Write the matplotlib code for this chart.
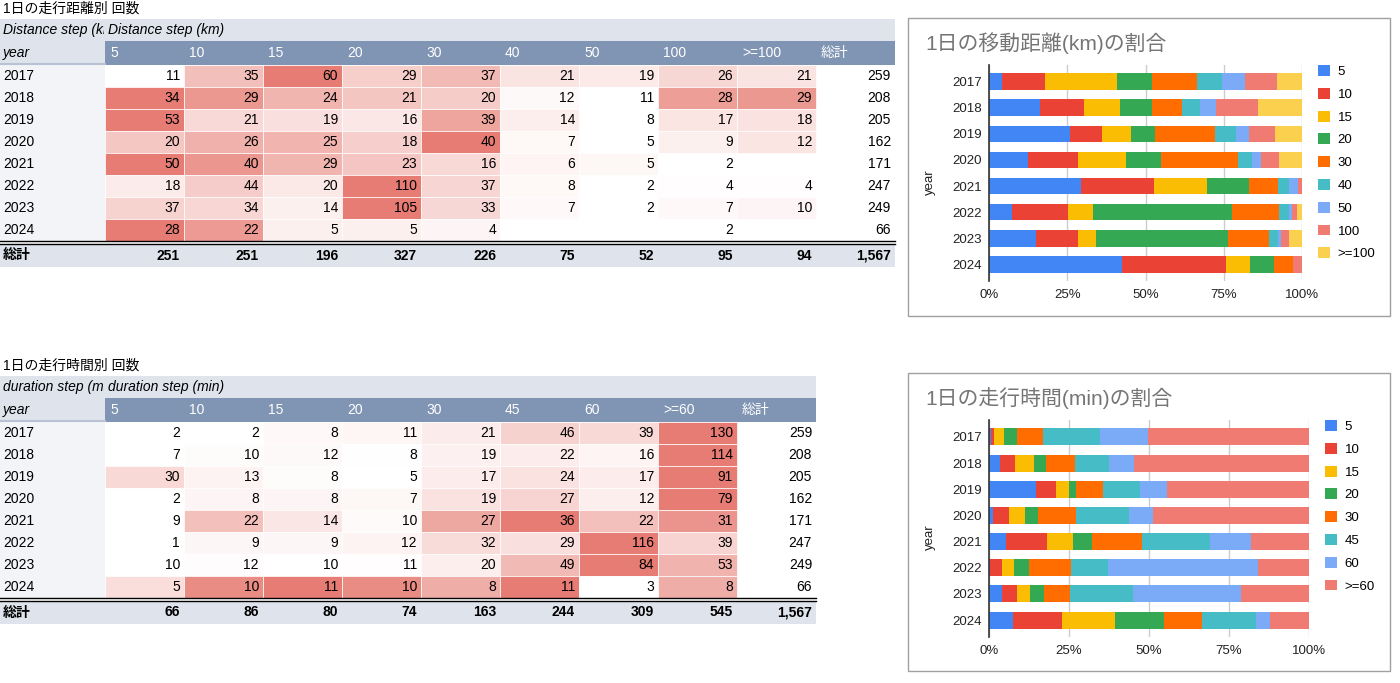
import numpy as np
import matplotlib
matplotlib.use('Agg')
import matplotlib.pyplot as plt
from matplotlib.patches import Rectangle
from matplotlib.colors import LinearSegmentedColormap
from matplotlib.transforms import Bbox, TransformedBbox

plt.rcParams['font.family'] = ['Liberation Sans', 'Noto Sans CJK JP', 'DejaVu Sans']

# データ
years = [2017, 2018, 2019, 2020, 2021, 2022, 2023, 2024]

dist_bins = ['5', '10', '15', '20', '30', '40', '50', '100', '>=100']
dist_counts = np.array([
    [11, 35, 60, 29, 37, 21, 19, 26, 21],
    [34, 29, 24, 21, 20, 12, 11, 28, 29],
    [53, 21, 19, 16, 39, 14, 8, 17, 18],
    [20, 26, 25, 18, 40, 7, 5, 9, 12],
    [50, 40, 29, 23, 16, 6, 5, 2, np.nan],
    [18, 44, 20, 110, 37, 8, 2, 4, 4],
    [37, 34, 14, 105, 33, 7, 2, 7, 10],
    [28, 22, 5, 5, 4, np.nan, np.nan, 2, np.nan],
])

dur_bins = ['5', '10', '15', '20', '30', '45', '60', '>=60']
dur_counts = np.array([
    [2, 2, 8, 11, 21, 46, 39, 130],
    [7, 10, 12, 8, 19, 22, 16, 114],
    [30, 13, 8, 5, 17, 24, 17, 91],
    [2, 8, 8, 7, 19, 27, 12, 79],
    [9, 22, 14, 10, 27, 36, 22, 31],
    [1, 9, 9, 12, 32, 29, 116, 39],
    [10, 12, 10, 11, 20, 49, 84, 53],
    [5, 10, 11, 10, 8, 11, 3, 8],
], dtype=float)

bar_colors = ['#4285F4', '#EA4335', '#FBBC04', '#34A853', '#FF6D01',
              '#46BDC6', '#7BAAF7', '#F07B72', '#FCD04F']

LIGHT = '#DFE3EC'
DARK = '#8094B3'
YEARBG = '#F3F4F7'
FS = 10      # 表の文字
CFS = 9.5    # グラフの文字

W, H = 1400, 683
fig = plt.figure(figsize=(14, 6.83), dpi=100)
canvas = fig.add_axes([0, 0, 1, 1])
canvas.set_xlim(0, W)
canvas.set_ylim(H, 0)
canvas.axis('off')

heat = LinearSegmentedColormap.from_list('heat', ['#FFFFFF', '#E67C73'])


# 表（ヒートマップ付き）
def draw_table(top, title, step_label, bins, counts):
    x0, cw, rh = 105, 79, 22
    ncol = len(bins) + 1
    right = x0 + cw * ncol
    canvas.text(3, top - 10, title, fontsize=FS, va='center')

    canvas.add_patch(Rectangle((0, top), right, 22, color=LIGHT, lw=0))
    t = canvas.text(3, top + 11, step_label, style='italic', fontsize=FS, va='center')
    t.set_clip_box(TransformedBbox(Bbox([[0, top], [x0 - 1, top + 22]]), canvas.transData))
    t.set_clip_on(True)
    canvas.text(x0 + 3, top + 11, step_label, style='italic', fontsize=FS, va='center')

    head = top + 22
    canvas.add_patch(Rectangle((0, head), x0, 24, color=LIGHT, lw=0))
    canvas.plot([0, x0], [head + 23, head + 23], color='#B8C2D4', lw=1.5)
    canvas.add_patch(Rectangle((x0, head), right - x0, 24, color=DARK, lw=0))
    canvas.text(3, head + 12, 'year', style='italic', fontsize=FS, va='center')
    for j, lab in enumerate(bins + ['総計']):
        canvas.text(x0 + cw * j + 5, head + 12, lab, color='white', fontsize=FS, va='center')

    body = head + 24
    canvas.add_patch(Rectangle((0, body), x0, rh * len(years), color=YEARBG, lw=0))
    for i, yr in enumerate(years):
        y = body + rh * i
        row = counts[i]
        lo, hi = np.nanmin(row), np.nanmax(row)
        canvas.text(3, y + rh / 2, str(yr), fontsize=FS, va='center')
        for j, v in enumerate(row):
            if np.isnan(v):
                continue
            frac = (v - lo) / (hi - lo)
            canvas.add_patch(Rectangle((x0 + cw * j, y), cw, rh, facecolor=heat(frac),
                                       edgecolor='white', lw=0.5))
            canvas.text(x0 + cw * (j + 1) - 4, y + rh / 2, f'{int(v)}',
                        fontsize=FS, ha='right', va='center')
        canvas.text(right - 4, y + rh / 2, f'{int(np.nansum(row)):,}',
                    fontsize=FS, ha='right', va='center')

    bot = body + rh * len(years)
    canvas.plot([0, right], [bot, bot], color='black', lw=1)
    canvas.plot([0, right], [bot + 2.5, bot + 2.5], color='black', lw=1)
    tot = bot + 3
    canvas.add_patch(Rectangle((0, tot), right, 23, color=LIGHT, lw=0))
    canvas.text(3, tot + 11.5, '総計', fontsize=FS, fontweight='bold', va='center')
    col_tot = np.nansum(counts, axis=0)
    for j, v in enumerate(col_tot):
        canvas.text(x0 + cw * (j + 1) - 4, tot + 11.5, f'{int(v):,}', fontsize=FS,
                    fontweight='bold', ha='right', va='center')
    canvas.text(right - 4, tot + 11.5, f'{int(col_tot.sum()):,}', fontsize=FS,
                fontweight='bold', ha='right', va='center')


# 100%積み上げ横棒グラフ
def draw_chart(box, plot, title, bins, counts, legend_xy, ylab_y):
    bx0, by0, bx1, by1 = box
    fig.add_artist(Rectangle((bx0 / W, 1 - by1 / H), (bx1 - bx0) / W, (by1 - by0) / H,
                             transform=fig.transFigure, fill=False,
                             edgecolor='#A0A0A0', lw=1))
    fig.text((bx0 + 17) / W, 1 - (by0 + 25) / H, title, fontsize=15,
             color='#757575', va='center')

    px0, py0, px1, py1 = plot
    ax = fig.add_axes([px0 / W, 1 - py1 / H, (px1 - px0) / W, (py1 - py0) / H])
    c = np.nan_to_num(counts)
    share = c / c.sum(axis=1, keepdims=True)
    ypos = np.arange(len(years))
    left = np.zeros(len(years))
    for j, lab in enumerate(bins):
        ax.barh(ypos, share[:, j], left=left, height=0.65, color=bar_colors[j], label=lab)
        left += share[:, j]

    ax.set_xlim(0, 1)
    ax.set_ylim(len(years) - 0.35, -0.65)
    ax.set_yticks(ypos)
    ax.set_yticklabels([str(y) for y in years])
    ax.set_xticks([0, 0.25, 0.5, 0.75, 1.0])
    ax.set_xticklabels(['0%', '25%', '50%', '75%', '100%'])
    ax.tick_params(length=0, labelsize=CFS, colors='#222222')
    ax.tick_params(axis='x', pad=6)
    ax.tick_params(axis='y', pad=5)
    ax.xaxis.grid(True, color='#CCCCCC', lw=1)
    ax.set_axisbelow(True)
    for s in ['top', 'right', 'bottom']:
        ax.spines[s].set_visible(False)
    ax.spines['left'].set_color('#333333')
    ax.spines['left'].set_linewidth(1.2)
    ax.set_ylabel('year', fontsize=CFS, color='#222222')
    ax.yaxis.set_label_coords((936 - px0) / (px1 - px0), (py1 - ylab_y) / (py1 - py0))

    lx, ly = legend_xy
    ax.legend(loc='upper left', bbox_to_anchor=(lx / W, 1 - ly / H),
              bbox_transform=fig.transFigure, frameon=False, fontsize=CFS,
              handlelength=0.9, handleheight=0.9, handletextpad=0.6,
              labelspacing=0.74, borderpad=0, borderaxespad=0)


draw_table(19, '1日の走行距離別 回数', 'Distance step (km)', dist_bins, dist_counts)
draw_table(376, '1日の走行時間別 回数', 'duration step (min)', dur_bins, dur_counts)

draw_chart((908, 18, 1390, 316), (989, 65, 1302, 281),
           '1日の移動距離(km)の割合', dist_bins, dist_counts, (1318, 65), 182)
draw_chart((908, 373, 1390, 671), (989, 420, 1309, 637),
           '1日の走行時間(min)の割合', dur_bins, dur_counts, (1325, 420), 537)

fig.savefig('out.png', dpi=100)
